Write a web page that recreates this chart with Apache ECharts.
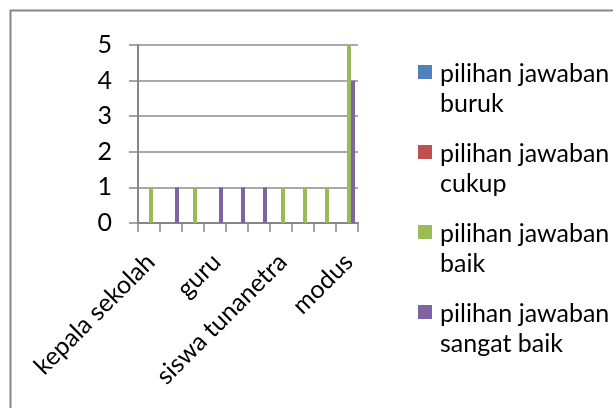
<!DOCTYPE html>
<html>
<head>
<meta charset="utf-8">
<script src="https://cdn.jsdelivr.net/npm/echarts@6/dist/echarts.min.js"></script>
<style>
html,body{margin:0;padding:0;background:#fff;}
#chart{width:613px;height:408px;}
</style>
</head>
<body>
<div id="chart"></div>
<script>
// ---- data ----
var categories = ['kepala sekolah', '', '', 'guru', '', '', 'siswa tunanetra', '', '', 'modus'];
var seriesNames = ['pilihan jawaban buruk', 'pilihan jawaban cukup', 'pilihan jawaban baik', 'pilihan jawaban sangat baik'];
var buruk      = [0, 0, 0, 0, 0, 0, 0, 0, 0, 0];
var cukup      = [0, 0, 0, 0, 0, 0, 0, 0, 0, 0];
var baik       = [1, 0, 1, 0, 0, 0, 1, 1, 1, 5];
var sangatBaik = [0, 1, 0, 1, 1, 1, 0, 0, 0, 4];
var yTicks = [0, 1, 2, 3, 4, 5];

var colors = ['#4F81BD', '#C0504D', '#9BBB59', '#8064A2'];
var FONT = 'Lato';
var values = [buruk, cukup, baik, sangatBaik];

var chart = echarts.init(document.getElementById('chart'));
chart.setOption({
  animation: false,
  color: colors,
  textStyle: { fontFamily: FONT },
  graphic: [{
    type: 'rect', left: 8, top: 8,
    shape: { width: 640, height: 440 },
    style: { fill: 'none', stroke: '#868686', lineWidth: 2 },
    silent: true
  }],
  grid: { left: 138, right: 255, top: 45, bottom: 185, containLabel: false },
  legend: {
    orient: 'vertical',
    left: 418, top: 59,
    padding: 0,
    itemWidth: 14, itemHeight: 48,
    itemGap: 20,
    icon: 'path://M0,0H14V14H0Z M0,47.99H0.01V48H0Z',
    data: seriesNames,
    formatter: function (name) { return name.replace('pilihan jawaban ', 'pilihan jawaban\n'); },
    textStyle: { fontFamily: FONT, fontSize: 25, lineHeight: 30, color: '#000', padding: [0, 0, 0, 3] }
  },
  xAxis: {
    type: 'category',
    data: categories,
    axisLine: { lineStyle: { color: '#868686', width: 2 } },
    axisTick: { show: true, length: 9, lineStyle: { color: '#868686', width: 1.5 } },
    axisLabel: { interval: 0, rotate: 45, margin: 19, verticalAlign: 'top', align: 'right',
                 padding: [0, 10, 0, 0],
                 fontFamily: FONT, fontSize: 25, color: '#000' }
  },
  yAxis: {
    type: 'value',
    min: yTicks[0], max: yTicks[yTicks.length - 1], interval: 1,
    axisLine: { show: true, lineStyle: { color: '#868686', width: 2 } },
    axisTick: { show: true, length: 9, lineStyle: { color: '#868686', width: 1.5 } },
    splitLine: { lineStyle: { color: '#8c8c8c', width: 1.5 } },
    axisLabel: { margin: 26, padding: [6, 0, 0, 0], fontFamily: FONT, fontSize: 25, color: '#000' }
  },
  series: seriesNames.map(function (n, i) {
    return {
      name: n, type: 'bar',
      data: values[i],
      barWidth: 4, barGap: '0%',
      itemStyle: { color: colors[i] }
    };
  })
});
</script>
</body>
</html>
